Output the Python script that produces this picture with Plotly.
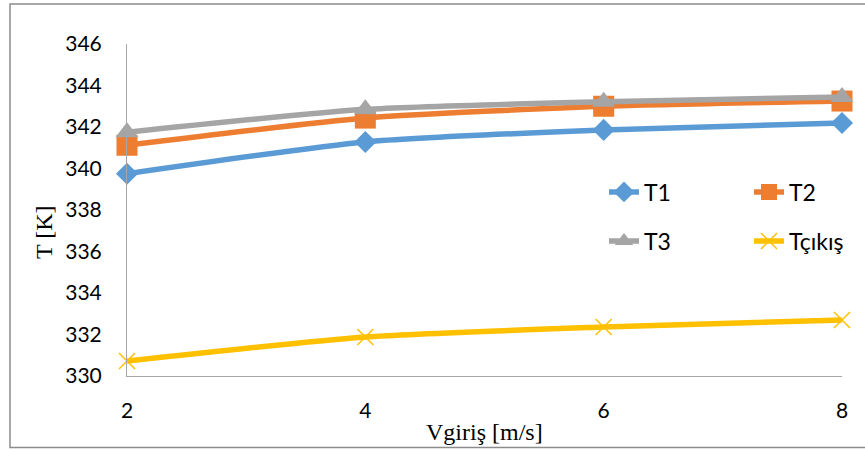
import plotly.graph_objects as go

v_in = [2, 4, 6, 8]
T1 = [339.75, 341.28, 341.86, 342.19]
T2 = [341.12, 342.43, 343.0, 343.25]
T3 = [341.75, 342.85, 343.22, 343.45]
T_out = [330.72, 331.88, 332.36, 332.70]

x_ticks = [2, 4, 6, 8]
y_ticks = [330, 332, 334, 336, 338, 340, 342, 344, 346]

W, H = 865, 450
L, R, T, B = 127, 23, 44, 74
pw, ph = W - L - R, H - T - B

def px_x(p):
    return (p - L) / pw

def px_y(p):
    return (H - B - p) / ph

fig = go.Figure()

series = [
    ("T1", T1, "#5B9BD5", dict(symbol="diamond", size=17), "legend", 604, 192),
    ("T2", T2, "#ED7D31", dict(symbol="square", size=21), "legend2", 749, 192),
    ("T3", T3, "#A5A5A5", dict(symbol="triangle-up", size=20), "legend3", 604, 241),
    ("Tçıkış", T_out, "#FFC000", dict(symbol="x-thin", size=16,
                                        line=dict(width=1.5, color="#FFC000")), "legend4", 749, 241),
]

legends = {}
for name, ys, col, mk, lg, lx, ly in series:
    fig.add_trace(go.Scatter(
        x=v_in, y=ys, name=name, mode="lines+markers",
        line=dict(color=col, width=5.5, shape="spline", smoothing=0.6),
        marker=dict(color=col, **mk),
        cliponaxis=False, legend=lg,
    ))
    legends[lg] = dict(
        x=px_x(lx), y=px_y(ly), xanchor="left", yanchor="middle",
        orientation="h",
        font=dict(family="Lato", size=23, color="#000000"),
        bgcolor="rgba(0,0,0,0)",
    )

fig.update_layout(
    width=W, height=H,
    margin=dict(l=L, r=R, t=T, b=B, autoexpand=False),
    paper_bgcolor="white", plot_bgcolor="white",
    showlegend=True,
    xaxis=dict(
        range=[2, 8], tickvals=x_ticks, showgrid=False, zeroline=False,
        showline=True, linecolor="#A6A6A6", linewidth=1,
        tickfont=dict(family="Lato", size=21, color="#000000"),
        ticks="", ticklabelstandoff=16,
    ),
    yaxis=dict(
        range=[330, 346], tickvals=y_ticks, showgrid=False, zeroline=False,
        showline=True, linecolor="#A6A6A6", linewidth=1,
        tickfont=dict(family="Lato", size=21, color="#000000"),
        ticks="", ticklabelstandoff=20,
    ),
    annotations=[
        dict(text="Vgiriş [m/s]", xref="paper", yref="paper",
             x=0.5, y=px_y(432), xanchor="center", yanchor="middle",
             showarrow=False,
             font=dict(family="Liberation Serif", size=24, color="#000000")),
        dict(text="T [K]", xref="paper", yref="paper",
             x=px_x(44), y=px_y(232), xanchor="center", yanchor="middle",
             textangle=-90, showarrow=False,
             font=dict(family="Liberation Serif", size=24, color="#000000")),
    ],
    shapes=[
        dict(type="rect", xref="paper", yref="paper",
             x0=px_x(10), x1=px_x(880), y0=px_y(447.5), y1=px_y(4),
             line=dict(color="#8C8C8C", width=1.5), layer="below"),
    ],
    **legends,
)

fig.write_html("out.html")
